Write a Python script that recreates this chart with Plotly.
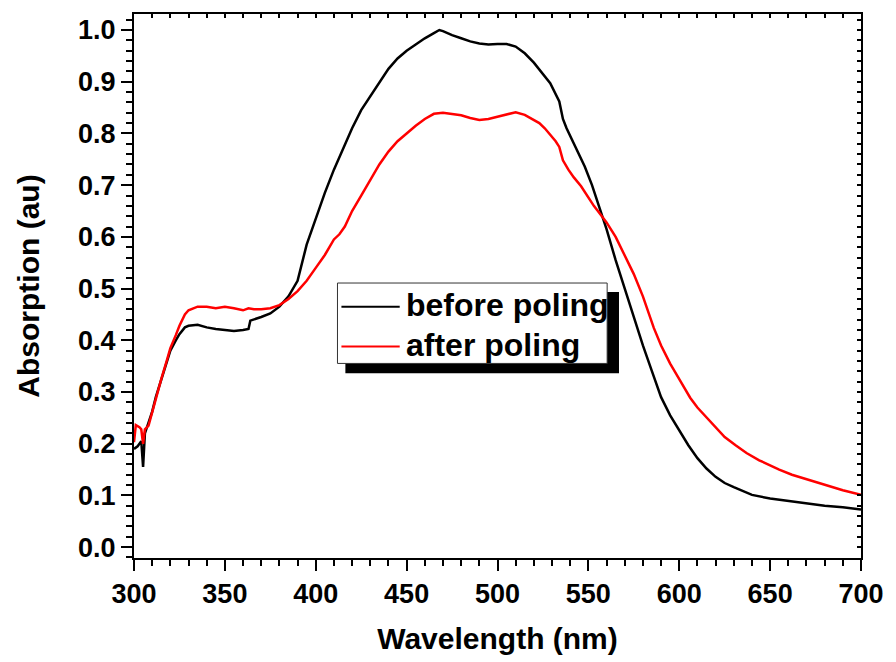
import plotly.graph_objects as go

# ---- data ----
wl_before = [300, 302, 304, 305, 306, 308, 310, 312, 315, 318, 320, 323, 325, 328, 330, 335, 340, 345, 350,
             355, 360, 363, 364, 366, 370, 375, 380, 385, 390, 395, 400, 405, 410, 415, 420, 425, 430, 435,
             440, 445, 450, 455, 460, 465, 468, 470, 475, 480, 485, 490, 495, 500, 505, 510, 515, 520, 525,
             529, 534, 536, 538, 541, 545, 548, 552, 557, 560, 565, 570, 575, 580, 585, 590, 595, 600, 605,
             610, 615, 620, 625, 630, 635, 640, 650, 660, 670, 680, 690, 700]
abs_before = [0.19, 0.195, 0.205, 0.155, 0.22, 0.24, 0.262, 0.29, 0.325, 0.36, 0.38, 0.40, 0.412, 0.425,
              0.428, 0.43, 0.425, 0.422, 0.42, 0.418, 0.42, 0.422, 0.438, 0.44, 0.445, 0.452, 0.465, 0.485,
              0.515, 0.585, 0.635, 0.685, 0.73, 0.77, 0.81, 0.845, 0.872, 0.898, 0.925, 0.945, 0.96, 0.972,
              0.984, 0.994, 1.0, 0.998, 0.99, 0.984, 0.978, 0.974, 0.972, 0.973, 0.973, 0.968, 0.955, 0.937,
              0.915, 0.897, 0.862, 0.828, 0.81, 0.788, 0.76, 0.736, 0.70, 0.648, 0.615, 0.555, 0.50, 0.445,
              0.39, 0.34, 0.29, 0.255, 0.225, 0.197, 0.172, 0.152, 0.136, 0.124, 0.116, 0.108, 0.101, 0.094,
              0.089, 0.085, 0.080, 0.077, 0.073]

wl_after = [300, 301, 303, 304, 305, 306, 308, 310, 312, 315, 318, 320, 323, 325, 328, 330, 335, 340, 345,
            350, 355, 360, 363, 366, 370, 375, 380, 385, 390, 395, 400, 405, 410, 413, 416, 420, 425, 430,
            435, 440, 445, 450, 455, 460, 465, 470, 475, 480, 485, 490, 495, 500, 505, 510, 515, 520, 523,
            526, 529, 532, 534, 535, 536, 539, 542, 546, 550, 553, 557, 560, 565, 570, 575, 580, 586, 590,
            595, 600, 606, 610, 615, 620, 625, 631, 637, 644, 650, 655, 662, 670, 680, 690, 700]
abs_after = [0.203, 0.236, 0.232, 0.228, 0.20, 0.228, 0.235, 0.262, 0.29, 0.325, 0.36, 0.385, 0.41, 0.428,
             0.45, 0.458, 0.465, 0.465, 0.462, 0.465, 0.462, 0.458, 0.462, 0.46, 0.46, 0.462, 0.468, 0.48,
             0.495, 0.515, 0.54, 0.565, 0.595, 0.605, 0.62, 0.65, 0.68, 0.71, 0.74, 0.765, 0.785, 0.80, 0.815,
             0.828, 0.838, 0.84, 0.838, 0.835, 0.83, 0.826, 0.828, 0.832, 0.836, 0.841, 0.836, 0.826, 0.82,
             0.81, 0.797, 0.785, 0.774, 0.76, 0.748, 0.73, 0.715, 0.698, 0.675, 0.66, 0.642, 0.628, 0.60,
             0.565, 0.528, 0.485, 0.424, 0.39, 0.355, 0.325, 0.289, 0.27, 0.251, 0.232, 0.213, 0.197, 0.182,
             0.168, 0.158, 0.15, 0.14, 0.131, 0.12, 0.11, 0.101]

series_names = ["before poling", "after poling"]
series_colors = ["#000000", "#ff0000"]

x_ticks = [300, 350, 400, 450, 500, 550, 600, 650, 700]
y_ticks = [0.0, 0.1, 0.2, 0.3, 0.4, 0.5, 0.6, 0.7, 0.8, 0.9, 1.0]

FONT = "Liberation Sans, Arial, sans-serif"

fig = go.Figure()
fig.add_trace(go.Scatter(x=wl_before, y=abs_before, mode="lines", name=series_names[0],
                         line=dict(color=series_colors[0], width=2.5), showlegend=False))
fig.add_trace(go.Scatter(x=wl_after, y=abs_after, mode="lines", name=series_names[1],
                         line=dict(color=series_colors[1], width=2.5), showlegend=False))
# empty trace to activate the mirrored (top/right) axes
fig.add_trace(go.Scatter(x=[], y=[], xaxis="x2", yaxis="y2", showlegend=False, hoverinfo="skip"))

tickfont = dict(family=FONT, size=27, color="black", weight="bold")
titlefont = dict(family=FONT, size=30, color="black", weight="bold")

fig.update_layout(
    width=896, height=662,
    margin=dict(l=134, r=26, t=14, b=100),
    paper_bgcolor="white", plot_bgcolor="white",
    xaxis=dict(range=[300, 700], tickvals=x_ticks, ticktext=[str(v) for v in x_ticks],
               ticks="outside", ticklen=11, tickwidth=2, tickcolor="black",
               minor=dict(dtick=10, tick0=300, ticks="outside", ticklen=6, tickwidth=2, tickcolor="black"),
               showline=True, linewidth=2, linecolor="black", mirror=True,
               showgrid=False, zeroline=False, tickfont=tickfont,
               title=dict(text="Wavelength (nm)", font=titlefont, standoff=20)),
    yaxis=dict(range=[-0.021, 1.031], tickvals=y_ticks, ticktext=[f"{v:.1f}" for v in y_ticks],
               ticks="outside", ticklen=11, tickwidth=2, tickcolor="black",
               minor=dict(dtick=0.02, tick0=0, ticks="outside", ticklen=6, tickwidth=2, tickcolor="black"),
               showline=True, linewidth=2, linecolor="black", mirror=True,
               showgrid=False, zeroline=False, tickfont=tickfont,
               title=dict(text="Absorption (au)", font=titlefont, standoff=30)),
    xaxis2=dict(overlaying="x", side="top", range=[300, 700], dtick=10, tick0=300,
                ticks="inside", ticklen=4, tickwidth=1.5, tickcolor="black",
                showticklabels=False, showgrid=False, zeroline=False, showline=False),
    yaxis2=dict(overlaying="y", side="right", range=[-0.021, 1.031], dtick=0.02, tick0=0,
                ticks="inside", ticklen=4, tickwidth=1.5, tickcolor="black",
                showticklabels=False, showgrid=False, zeroline=False, showline=False),
)

# ---- custom legend with drop shadow (pixel -> paper helpers) ----
L, T, W, H = 134, 14, 736, 548
def px(x):
    return (x - L) / W
def py(y):
    return 1 - (y - T) / H

shapes = [
    dict(type="rect", xref="paper", yref="paper", x0=px(348), x1=px(625), y0=py(376), y1=py(294),
         fillcolor="black", line=dict(width=0), layer="above"),
    dict(type="rect", xref="paper", yref="paper", x0=px(340), x1=px(613), y0=py(366), y1=py(285),
         fillcolor="white", line=dict(color="#333333", width=1), layer="above"),
    dict(type="line", xref="paper", yref="paper", x0=px(344), x1=px(403), y0=py(309), y1=py(309),
         line=dict(color=series_colors[0], width=2), layer="above"),
    dict(type="line", xref="paper", yref="paper", x0=px(344), x1=px(403), y0=py(349), y1=py(349),
         line=dict(color=series_colors[1], width=2), layer="above"),
]
fig.update_layout(shapes=shapes)
legfont = dict(family=FONT, size=32, color="black", weight="bold")
fig.add_annotation(xref="paper", yref="paper", x=px(407), y=py(307), text=series_names[0],
                   showarrow=False, xanchor="left", yanchor="middle", font=legfont)
fig.add_annotation(xref="paper", yref="paper", x=px(407), y=py(347), text=series_names[1],
                   showarrow=False, xanchor="left", yanchor="middle", font=legfont)

fig.write_html("out.html", config={"displayModeBar": False},
               post_script="document.body.style.margin='0';document.body.style.overflow='hidden';"
                           "document.documentElement.style.overflow='hidden';")
